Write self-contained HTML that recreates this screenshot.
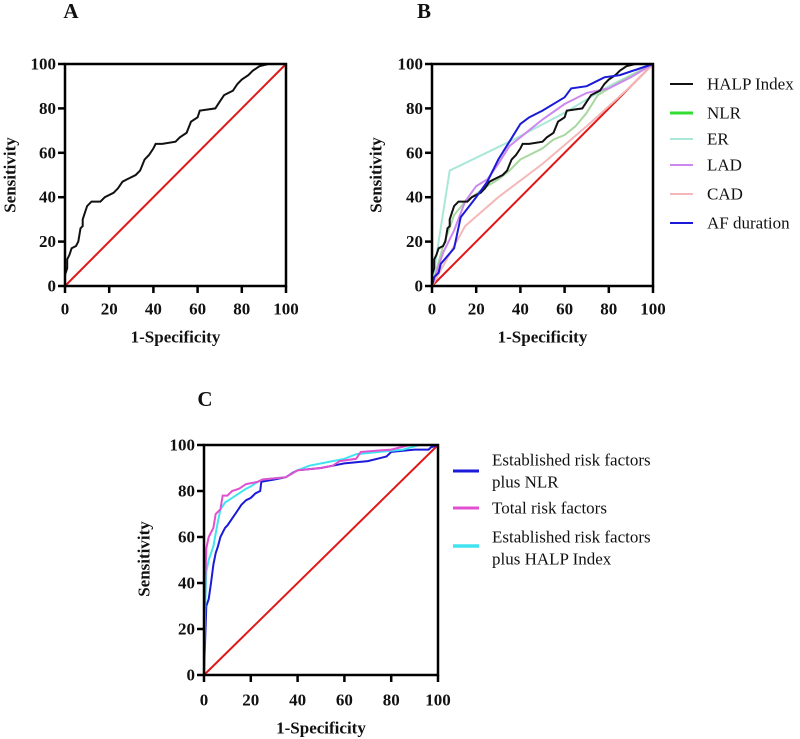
<!DOCTYPE html>
<html><head><meta charset="utf-8"><style>
html,body{margin:0;padding:0;background:#fff;}
svg{display:block;}
svg text{font-family:"Liberation Serif","DejaVu Serif",serif !important;}
.tk{font-weight:bold;font-size:17px;fill:#111;}
.ttl{font-weight:bold;font-size:17px;fill:#111;}
.lg{font-size:17px;fill:#111;}
.let{font-weight:bold;font-size:21px;fill:#111;}
</style></head><body>
<svg id="fig" width="800" height="739" viewBox="0 0 800 739" xmlns="http://www.w3.org/2000/svg" font-family="Liberation Serif, serif"></svg>
<script>
const ticks=[0,20,40,60,80,100];
const tickLabels=["0","20","40","60","80","100"];
// Panel A: HALP Index
const aHalpX=[0,0,1,1,2,3,5,6,7,8,8,9,10,12,16,18,22,24,26,28,32,34,36,38,40,41,44,50,52,55,57,60,61,68,70,72,76,78,80,83,85,88,92,100];
const aHalpY=[0,5,8,12,14,17,18,20,26,27,30,33,36,38,38,40,42,44,47,48,50,52,57,59,62,64,64,65,67,69,74,76,79,80,83,86,88,91,93,95,97,99,100,100];
// Panel B
const bNlrX=[0,5,10,15,25,30,35,40,50,55,60,65,70,75,85,100];
const bNlrY=[0,18,32,38,45,48,52,57,62,66,68,72,78,86,92,100];
const bErX=[0,3,8,35,60,80,100];
const bErY=[0,20,52,65,78,90,100];
const bLadX=[0,5,10,15,20,25,30,35,40,50,60,70,80,90,100];
const bLadY=[0,15,25,38,45,48,55,63,67,75,82,87,89,94,100];
const bCadX=[0,15,30,50,70,90,100];
const bCadY=[0,27,40,55,72,90,100];
const bAfX=[0,1,3,4,10,13,20,25,30,35,40,44,50,60,63,70,78,85,100];
const bAfY=[0,4,6,10,17,31,40,47,57,65,73,76,79,85,89,90,94,95,100];
// Panel C
const cNlrX=[0,0.5,1,2,3,4,5,6,7,8,9,10,12,14,16,18,20,22,24,24.5,30,35,38,40,50,55,60,70,78,80,90,96,97,100];
const cNlrY=[0,16,30,33,40,48,53,56,60,62,64,65,68,71,74,76,77,79,80,84,85,86,88,89,90,91,92,93,95,97,98,98,99,100];
const cTotX=[0,0.5,1,2,4,5,7,8,10,12,15,18,23,25,35,40,50,55,58,65,67,80,88,100];
const cTotY=[0,40,55,60,64,70,72,78,78,80,81,83,84,85,86,89,90,91,93,94,97,98,100,100];
const cHalpX=[0,0.5,1,2,4,6,7,9,12,15,18,20,23,25,35,40,45,55,60,65,75,85,92,100];
const cHalpY=[0,30,45,50,56,67,72,75,77,79,81,82,84,85,86,89,91,93,94,96,97,98,100,100];

const NS="http://www.w3.org/2000/svg";
const svg=document.getElementById('fig');
function mk(tag,attrs,parent){const e=document.createElementNS(NS,tag);for(const k in attrs)e.setAttribute(k,attrs[k]);(parent||svg).appendChild(e);return e;}
function txt(s,attrs,cls){const e=mk('text',attrs);e.setAttribute('class',cls);e.setAttribute('font-family','Liberation Serif, serif');e.style.fontFamily='"Liberation Serif", serif';e.textContent=s;return e;}

function panel(id,x0,x1,y0,y1,letter,lx,ly,ylabX){
  const g=mk('g',{});
  
  
  const sx=v=>x0+(x1-x0)*v/100, sy=v=>y0-(y0-y1)*v/100;
  const L=txt(letter,{x:lx,y:ly,'text-anchor':'middle','dominant-baseline':'central'},'let');
  
  
  return {g,sx,sy,x0,x1,y0,y1,ylabX,id};
}
function line(p,xs,ys,color,w,name){
  let d='';xs.forEach((v,i)=>{d+=(i?'L':'M')+p.sx(v).toFixed(1)+','+p.sy(ys[i]).toFixed(1);});
  const e=mk('path',{d:d,fill:'none',stroke:color,'stroke-width':w,'stroke-linejoin':'miter'},p.g);
  
  
}
function axes(p){
  const ref=mk('line',{x1:p.sx(0),y1:p.sy(0),x2:p.sx(100),y2:p.sy(100),stroke:'#e01818','stroke-width':2},p.g);
  
  
}
function frame(p,xt,xty,yt){
  const r=mk('rect',{x:p.x0,y:p.y1,width:p.x1-p.x0,height:p.y0-p.y1,fill:'none',stroke:'#000','stroke-width':2.5});
  
  
  ticks.forEach((t,i)=>{
    mk('line',{x1:p.sx(t),y1:p.y0,x2:p.sx(t),y2:p.y0+7,stroke:'#000','stroke-width':2.5});
    mk('line',{x1:p.x0-7,y1:p.sy(t),x2:p.x0,y2:p.sy(t),stroke:'#000','stroke-width':2.5});
    const a=txt(tickLabels[i],{x:p.sx(t),y:xt,'text-anchor':'middle','dominant-baseline':'central'},'tk');
    
    
    const b=txt(tickLabels[i],{x:p.x0-9,y:p.sy(t),'text-anchor':'end','dominant-baseline':'central'},'tk');
    
    
  });
  const xl=txt('1-Specificity',{x:(p.x0+p.x1)/2,y:xty,'text-anchor':'middle','dominant-baseline':'central'},'ttl');
  
  
  const yl=txt('Sensitivity',{x:0,y:0,'text-anchor':'middle','dominant-baseline':'central',transform:'translate('+p.ylabX+','+yt+') rotate(-90)'},'ttl');
  
  
}
function legend(items,lx1,lx2,tx,name){
  items.forEach(it=>{
    const l=mk('line',{x1:lx1,y1:it.y,x2:lx2,y2:it.y,stroke:it.c,'stroke-width':it.w});
    
    
    it.t.forEach((s,j)=>{
      const t=txt(s,{x:tx,y:it.ty[j],'dominant-baseline':'central'},'lg');
      
      
    });
  });
}

// A
const A=panel('a',65,286,286,64,'A',71,11,10);
axes(A);
line(A,aHalpX,aHalpY,'#111',2,'halp-index-curve');
frame(A,309,337,175);

// B
const B=panel('b',432,653,286,64,'B',424,11,376);
axes(B);
line(B,bCadX,bCadY,'#f4b8b8',2,'cad-curve');
line(B,bErX,bErY,'#a9e8d8',2,'er-curve');
line(B,bNlrX,bNlrY,'#a8d8a0',2,'nlr-curve');
line(B,bLadX,bLadY,'#cc88ee',2,'lad-curve');
line(B,aHalpX,aHalpY,'#111',2,'halp-index-curve');
line(B,bAfX,bAfY,'#1a1ad8',2,'af-duration-curve');
frame(B,309,337,175);
legend([
 {y:84,c:'#111',w:2,t:['HALP Index'],ty:[84]},
 {y:113,c:'#33dd33',w:3,t:['NLR'],ty:[113]},
 {y:139,c:'#a9e8d8',w:2,t:['ER'],ty:[139]},
 {y:165,c:'#cc88ee',w:2,t:['LAD'],ty:[165]},
 {y:194,c:'#f4b8b8',w:2,t:['CAD'],ty:[194]},
 {y:223,c:'#1a1ad8',w:2,t:['AF duration'],ty:[223]}
],670,693,707,'legend-b');

// C
const C=panel('c',204,438,675,445,'C',205,399,144);
axes(C);
line(C,cNlrX,cNlrY,'#1a1ad8',2,'established-plus-nlr-curve');
line(C,cHalpX,cHalpY,'#40e4f0',2,'established-plus-halp-curve');
line(C,cTotX,cTotY,'#e050d0',2,'total-risk-factors-curve');
frame(C,700,728,559);
legend([
 {y:471,c:'#1a1ad8',w:3,t:['Established risk factors','plus NLR'],ty:[460,482]},
 {y:508,c:'#e050d0',w:3,t:['Total risk factors'],ty:[508]},
 {y:546,c:'#40e4f0',w:3.5,t:['Established risk factors','plus HALP Index'],ty:[537,559]}
],453,479,492,'legend-c');
</script>
</body></html>
